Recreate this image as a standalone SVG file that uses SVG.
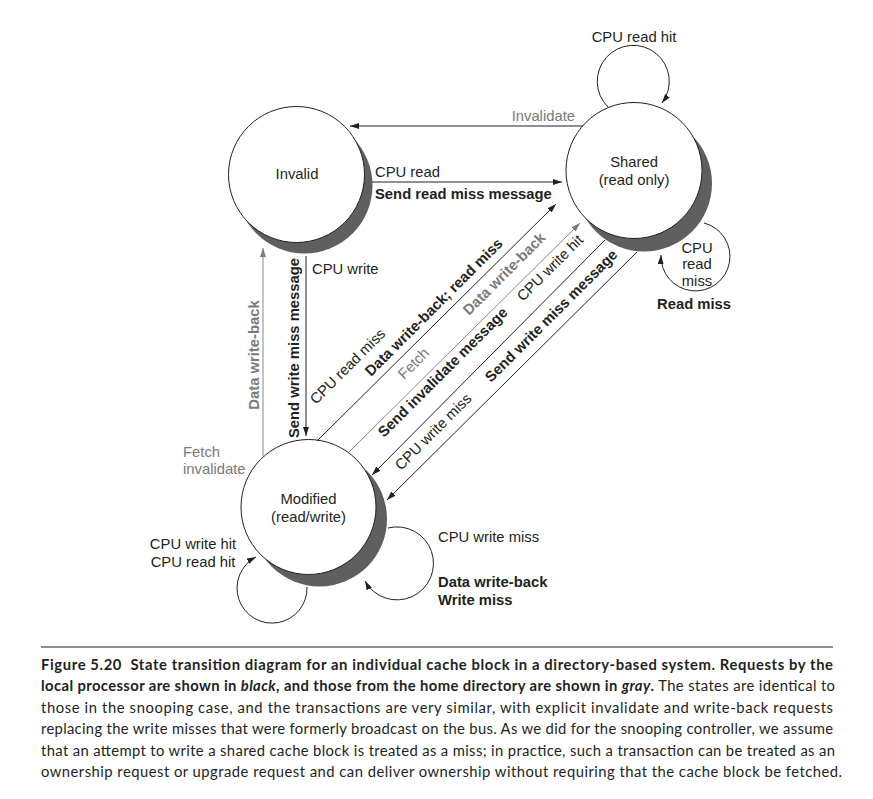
<svg xmlns="http://www.w3.org/2000/svg" width="873" height="799" viewBox="0 0 873 799">
<defs>
<marker id="ah" markerUnits="userSpaceOnUse" markerWidth="10" markerHeight="6" refX="9" refY="3" orient="auto"><path d="M0,0 L9,3 L0,6 z" fill="#231f20"/></marker>
<marker id="ahg" markerUnits="userSpaceOnUse" markerWidth="10" markerHeight="6" refX="9" refY="3" orient="auto"><path d="M0,0 L9,3 L0,6 z" fill="#7a7a7a"/></marker>
</defs>
<style>
.t{font-family:"Liberation Sans",Arial,Helvetica,sans-serif;font-size:14.8px;fill:#231f20}
.b{font-weight:bold}
.g{fill:#7a7a7a}
.c{text-anchor:middle}
.e{text-anchor:end}
.st{fill:#fff;stroke:#231f20;stroke-width:1}
.sh{fill:#5f5f5f}
.ln{fill:none;stroke:#231f20;stroke-width:1}
.lg{fill:none;stroke:#7a7a7a;stroke-width:0.9}
.cap{font-family:Lato,"Liberation Sans",Arial,sans-serif;font-size:14.8px;fill:#231f20}
</style>
<rect width="873" height="799" fill="#fff"/>

<g id="node-invalid">
<circle class="sh" cx="304.5" cy="185.5" r="68"/>
<circle class="st" cx="296.5" cy="174.5" r="68"/>
<text class="t c" x="297" y="179">Invalid</text>
</g>

<g id="node-shared">
<circle class="sh" cx="644" cy="183.5" r="68"/>
<circle class="st" cx="634" cy="170.5" r="68"/>
<text class="t c" x="634" y="167">Shared</text>
<text class="t c" x="634" y="185">(read only)</text>
</g>

<g id="node-modified">
<circle class="sh" cx="319.5" cy="519" r="67.5"/>
<circle class="st" cx="308.5" cy="507" r="67.5"/>
<text class="t c" x="308.5" y="504">Modified</text>
<text class="t c" x="308.5" y="522">(read/write)</text>
</g>

<g id="connectors">
<path class="ln" d="M583,126 L350,126" marker-end="url(#ah)"/>
<path class="ln" d="M372,182 L562,182" marker-end="url(#ah)"/>
<path class="lg" d="M263,456 L263,248" marker-end="url(#ahg)"/>
<path class="ln" d="M306,256 L306,436" marker-end="url(#ah)"/>
<path class="ln" d="M317,441 L556,204" marker-end="url(#ah)"/>
<path class="lg" d="M348,453 L580,223" marker-end="url(#ahg)"/>
<path class="ln" d="M605,240 L372,475" marker-end="url(#ah)"/>
<path class="ln" d="M637,252 L387,500" marker-end="url(#ah)"/>
<path class="ln" d="M608,107 A36,36 0 1 1 662,103" marker-end="url(#ah)"/>
<path class="ln" d="M704,223 A34.5,34.5 0 1 1 661,255" marker-end="url(#ah)"/>
<path class="ln" d="M307,587 A35,35 0 1 1 256,557" marker-end="url(#ah)"/>
<path class="ln" d="M388,528 A36.5,36.5 0 1 1 365,581" marker-end="url(#ah)"/>
</g>

<g id="labels">
<text class="t c" x="634" y="42">CPU read hit</text>
<text class="t g e" x="575" y="120.5">Invalidate</text>
<text class="t" x="375" y="177">CPU read</text>
<text class="t b" x="375" y="199">Send read miss message</text>
<text class="t" x="312" y="274">CPU write</text>
<text class="t b g c" transform="translate(259,355) rotate(-90)">Data write-back</text>
<text class="t b c" transform="translate(299,348) rotate(-90)">Send write miss message</text>
<text class="t" transform="translate(316,405) rotate(-45)">CPU read miss</text>
<text class="t b" transform="translate(371,377) rotate(-45)">Data write-back; read miss</text>
<text class="t g" transform="translate(404,380) rotate(-45)">Fetch</text>
<text class="t b g" transform="translate(469,316) rotate(-45)">Data write-back</text>
<text class="t b" transform="translate(384,438) rotate(-45)">Send invalidate message</text>
<text class="t" transform="translate(523,302) rotate(-45)">CPU write hit</text>
<text class="t" transform="translate(401,471) rotate(-45)">CPU write miss</text>
<text class="t b" transform="translate(491,383) rotate(-45)">Send write miss message</text>
<text class="t c" x="697" y="253">CPU</text>
<text class="t c" x="697" y="269">read</text>
<text class="t c" x="697" y="286">miss</text>
<text class="t b c" x="694" y="309">Read miss</text>
<text class="t g" x="183" y="457">Fetch</text>
<text class="t g" x="183" y="474">invalidate</text>
<text class="t c" x="193" y="549">CPU write hit</text>
<text class="t c" x="193" y="567">CPU read hit</text>
<text class="t" x="438" y="542">CPU write miss</text>
<text class="t b" x="438" y="587">Data write-back</text>
<text class="t b" x="438" y="605">Write miss</text>
</g>

<g id="caption">
<line x1="41" y1="647" x2="833" y2="647" stroke="#231f20" stroke-width="1"/>
<text class="cap" font-weight="bold" x="41" y="670" textLength="792" lengthAdjust="spacing">Figure 5.20&#160; State transition diagram for an individual cache block in a directory-based system. Requests by the</text>
<text class="cap" x="41" y="691" textLength="794" lengthAdjust="spacing"><tspan font-weight="bold">local processor are shown in </tspan><tspan font-weight="bold" font-style="italic">black</tspan><tspan font-weight="bold">, and those from the home directory are shown in </tspan><tspan font-weight="bold" font-style="italic">gray</tspan><tspan font-weight="bold">.</tspan> The states are identical to</text>
<text class="cap" x="41" y="713" textLength="792" lengthAdjust="spacing">those in the snooping case, and the transactions are very similar, with explicit invalidate and write-back requests</text>
<text class="cap" x="41" y="734" textLength="792" lengthAdjust="spacing">replacing the write misses that were formerly broadcast on the bus. As we did for the snooping controller, we assume</text>
<text class="cap" x="41" y="756" textLength="794" lengthAdjust="spacing">that an attempt to write a shared cache block is treated as a miss; in practice, such a transaction can be treated as an</text>
<text class="cap" x="41" y="777" textLength="801" lengthAdjust="spacing">ownership request or upgrade request and can deliver ownership without requiring that the cache block be fetched.</text>
</g>
</svg>
